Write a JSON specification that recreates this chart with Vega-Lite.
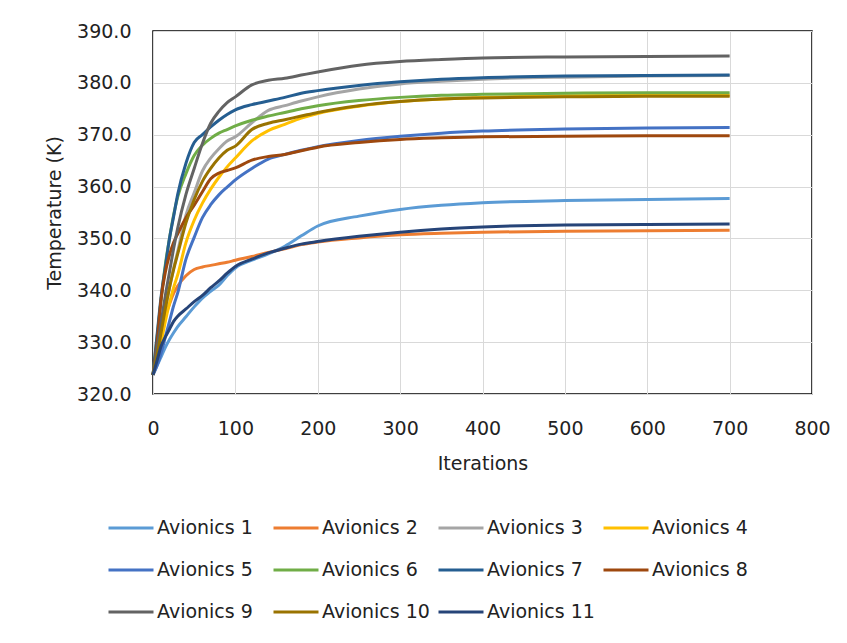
{
  "$schema": "https://vega.github.io/schema/vega-lite/v6.json",
  "width": 659,
  "height": 363,
  "autosize": {"type": "none"},
  "padding": {"left": 153, "top": 31, "right": 35, "bottom": 249},
  "background": "white",
  "config": {
    "font": "DejaVu Sans",
    "view": {"stroke": "#000000", "strokeWidth": 1.5},
    "axis": {
      "labelFont": "DejaVu Sans",
      "titleFont": "DejaVu Sans",
      "labelFontSize": 19,
      "titleFontSize": 19,
      "labelColor": "#222222",
      "titleColor": "#222222",
      "titleFontWeight": "normal",
      "gridColor": "#D9D9D9",
      "gridWidth": 1,
      "domain": false,
      "ticks": false
    },
    "legend": {
      "labelFont": "DejaVu Sans",
      "labelFontSize": 19,
      "labelColor": "#222222"
    }
  },
  "data": {
    "values": [
      {"it": 0, "Avionics 1": 323.7, "Avionics 2": 323.7, "Avionics 3": 323.7, "Avionics 4": 323.7, "Avionics 5": 323.7, "Avionics 6": 323.7, "Avionics 7": 323.7, "Avionics 8": 323.7, "Avionics 9": 323.7, "Avionics 10": 323.7, "Avionics 11": 323.7},
      {"it": 5, "Avionics 1": 325.5, "Avionics 2": 328.0, "Avionics 3": 328.0, "Avionics 4": 326.5, "Avionics 5": 325.5, "Avionics 6": 331.0, "Avionics 7": 331.5, "Avionics 8": 330.0, "Avionics 9": 329.0, "Avionics 10": 327.5, "Avionics 11": 326.5},
      {"it": 10, "Avionics 1": 327.2, "Avionics 2": 332.5, "Avionics 3": 332.5, "Avionics 4": 330.0, "Avionics 5": 328.0, "Avionics 6": 338.5, "Avionics 7": 339.0, "Avionics 8": 338.5, "Avionics 9": 334.0, "Avionics 10": 332.0, "Avionics 11": 329.3},
      {"it": 15, "Avionics 1": 329.0, "Avionics 2": 335.0, "Avionics 3": 336.5, "Avionics 4": 334.0, "Avionics 5": 331.0, "Avionics 6": 345.0, "Avionics 7": 344.5, "Avionics 8": 343.5, "Avionics 9": 339.0, "Avionics 10": 336.5, "Avionics 11": 331.0},
      {"it": 20, "Avionics 1": 330.5, "Avionics 2": 337.3, "Avionics 3": 340.5, "Avionics 4": 337.5, "Avionics 5": 334.0, "Avionics 6": 350.0, "Avionics 7": 350.0, "Avionics 8": 346.8, "Avionics 9": 343.5, "Avionics 10": 340.5, "Avionics 11": 332.5},
      {"it": 25, "Avionics 1": 331.8, "Avionics 2": 339.4, "Avionics 3": 344.2, "Avionics 4": 340.5, "Avionics 5": 337.0, "Avionics 6": 354.5, "Avionics 7": 354.2, "Avionics 8": 349.2, "Avionics 9": 348.0, "Avionics 10": 344.0, "Avionics 11": 334.0},
      {"it": 30, "Avionics 1": 333.0, "Avionics 2": 340.8, "Avionics 3": 347.5, "Avionics 4": 343.0, "Avionics 5": 339.5, "Avionics 6": 358.0, "Avionics 7": 358.5, "Avionics 8": 350.9, "Avionics 9": 352.0, "Avionics 10": 347.0, "Avionics 11": 335.0},
      {"it": 40, "Avionics 1": 334.9, "Avionics 2": 342.8, "Avionics 3": 354.5, "Avionics 4": 349.2, "Avionics 5": 346.0, "Avionics 6": 362.5, "Avionics 7": 364.5, "Avionics 8": 354.0, "Avionics 9": 358.5, "Avionics 10": 353.0, "Avionics 11": 336.4},
      {"it": 50, "Avionics 1": 336.8, "Avionics 2": 344.0, "Avionics 3": 358.8, "Avionics 4": 353.5, "Avionics 5": 350.2, "Avionics 6": 366.0, "Avionics 7": 368.5, "Avionics 8": 356.4, "Avionics 9": 363.5, "Avionics 10": 357.5, "Avionics 11": 337.8},
      {"it": 60, "Avionics 1": 338.5, "Avionics 2": 344.5, "Avionics 3": 363.0, "Avionics 4": 356.8, "Avionics 5": 354.0, "Avionics 6": 368.0, "Avionics 7": 370.0, "Avionics 8": 359.0, "Avionics 9": 368.3, "Avionics 10": 361.0, "Avionics 11": 339.0},
      {"it": 70, "Avionics 1": 339.8, "Avionics 2": 344.8, "Avionics 3": 365.5, "Avionics 4": 359.5, "Avionics 5": 356.5, "Avionics 6": 369.3, "Avionics 7": 371.5, "Avionics 8": 361.5, "Avionics 9": 372.2, "Avionics 10": 363.5, "Avionics 11": 340.5},
      {"it": 80, "Avionics 1": 341.0, "Avionics 2": 345.1, "Avionics 3": 367.3, "Avionics 4": 361.8, "Avionics 5": 358.4, "Avionics 6": 370.3, "Avionics 7": 372.8, "Avionics 8": 362.6, "Avionics 9": 374.5, "Avionics 10": 365.5, "Avionics 11": 341.8},
      {"it": 90, "Avionics 1": 342.8, "Avionics 2": 345.4, "Avionics 3": 368.8, "Avionics 4": 363.8, "Avionics 5": 359.9, "Avionics 6": 371.0, "Avionics 7": 373.9, "Avionics 8": 363.1, "Avionics 9": 376.2, "Avionics 10": 367.0, "Avionics 11": 343.3},
      {"it": 100, "Avionics 1": 344.3, "Avionics 2": 345.8, "Avionics 3": 369.6, "Avionics 4": 365.5, "Avionics 5": 361.3, "Avionics 6": 371.7, "Avionics 7": 374.8, "Avionics 8": 363.6, "Avionics 9": 377.3, "Avionics 10": 367.8, "Avionics 11": 344.6},
      {"it": 120, "Avionics 1": 345.8, "Avionics 2": 346.5, "Avionics 3": 372.3, "Avionics 4": 368.8, "Avionics 5": 363.5, "Avionics 6": 372.8, "Avionics 7": 375.8, "Avionics 8": 365.1, "Avionics 9": 379.6, "Avionics 10": 371.0, "Avionics 11": 346.0},
      {"it": 140, "Avionics 1": 347.0, "Avionics 2": 347.3, "Avionics 3": 374.7, "Avionics 4": 370.8, "Avionics 5": 365.3, "Avionics 6": 373.6, "Avionics 7": 376.5, "Avionics 8": 365.8, "Avionics 9": 380.5, "Avionics 10": 372.2, "Avionics 11": 347.2},
      {"it": 160, "Avionics 1": 348.5, "Avionics 2": 348.0, "Avionics 3": 375.6, "Avionics 4": 372.0, "Avionics 5": 366.2, "Avionics 6": 374.3, "Avionics 7": 377.2, "Avionics 8": 366.2, "Avionics 9": 380.9, "Avionics 10": 372.9, "Avionics 11": 348.1},
      {"it": 180, "Avionics 1": 350.5, "Avionics 2": 348.8, "Avionics 3": 376.5, "Avionics 4": 373.2, "Avionics 5": 367.0, "Avionics 6": 375.0, "Avionics 7": 378.0, "Avionics 8": 366.9, "Avionics 9": 381.5, "Avionics 10": 373.6, "Avionics 11": 348.9},
      {"it": 200, "Avionics 1": 352.4, "Avionics 2": 349.3, "Avionics 3": 377.3, "Avionics 4": 374.1, "Avionics 5": 367.7, "Avionics 6": 375.6, "Avionics 7": 378.5, "Avionics 8": 367.6, "Avionics 9": 382.1, "Avionics 10": 374.3, "Avionics 11": 349.4},
      {"it": 250, "Avionics 1": 354.3, "Avionics 2": 350.1, "Avionics 3": 378.8, "Avionics 4": 375.5, "Avionics 5": 368.9, "Avionics 6": 376.6, "Avionics 7": 379.5, "Avionics 8": 368.5, "Avionics 9": 383.4, "Avionics 10": 375.6, "Avionics 11": 350.4},
      {"it": 300, "Avionics 1": 355.6, "Avionics 2": 350.7, "Avionics 3": 379.8, "Avionics 4": 376.4, "Avionics 5": 369.7, "Avionics 6": 377.2, "Avionics 7": 380.2, "Avionics 8": 369.1, "Avionics 9": 384.1, "Avionics 10": 376.4, "Avionics 11": 351.2},
      {"it": 350, "Avionics 1": 356.4, "Avionics 2": 351.0, "Avionics 3": 380.3, "Avionics 4": 376.9, "Avionics 5": 370.3, "Avionics 6": 377.6, "Avionics 7": 380.7, "Avionics 8": 369.4, "Avionics 9": 384.5, "Avionics 10": 376.9, "Avionics 11": 351.8},
      {"it": 400, "Avionics 1": 356.9, "Avionics 2": 351.2, "Avionics 3": 380.7, "Avionics 4": 377.2, "Avionics 5": 370.7, "Avionics 6": 377.8, "Avionics 7": 381.0, "Avionics 8": 369.6, "Avionics 9": 384.8, "Avionics 10": 377.1, "Avionics 11": 352.2},
      {"it": 500, "Avionics 1": 357.3, "Avionics 2": 351.4, "Avionics 3": 381.1, "Avionics 4": 377.5, "Avionics 5": 371.1, "Avionics 6": 378.0, "Avionics 7": 381.3, "Avionics 8": 369.7, "Avionics 9": 385.0, "Avionics 10": 377.3, "Avionics 11": 352.6},
      {"it": 600, "Avionics 1": 357.5, "Avionics 2": 351.5, "Avionics 3": 381.3, "Avionics 4": 377.6, "Avionics 5": 371.3, "Avionics 6": 378.1, "Avionics 7": 381.4, "Avionics 8": 369.8, "Avionics 9": 385.1, "Avionics 10": 377.4, "Avionics 11": 352.7},
      {"it": 700, "Avionics 1": 357.7, "Avionics 2": 351.6, "Avionics 3": 381.4, "Avionics 4": 377.6, "Avionics 5": 371.4, "Avionics 6": 378.1, "Avionics 7": 381.5, "Avionics 8": 369.8, "Avionics 9": 385.2, "Avionics 10": 377.4, "Avionics 11": 352.8}
    ]
  },
  "transform": [
    {"fold": ["Avionics 1", "Avionics 2", "Avionics 3", "Avionics 4", "Avionics 5", "Avionics 6", "Avionics 7", "Avionics 8", "Avionics 9", "Avionics 10", "Avionics 11"], "as": ["series", "T"]}
  ],
  "mark": {"type": "line", "strokeWidth": 3, "interpolate": "monotone"},
  "encoding": {
    "x": {
      "field": "it",
      "type": "quantitative",
      "title": "Iterations",
      "scale": {"domain": [0, 800], "nice": false},
      "axis": {"values": [0, 100, 200, 300, 400, 500, 600, 700, 800], "labelPadding": 25, "titlePadding": 16, "labelFlush": false}
    },
    "y": {
      "field": "T",
      "type": "quantitative",
      "title": "Temperature (K)",
      "scale": {"domain": [320, 390], "nice": false, "zero": false},
      "axis": {"values": [320, 330, 340, 350, 360, 370, 380, 390], "format": ".1f", "labelPadding": 22, "titlePadding": 12}
    },
    "color": {
      "field": "series",
      "type": "nominal",
      "scale": {
        "domain": ["Avionics 1", "Avionics 2", "Avionics 3", "Avionics 4", "Avionics 5", "Avionics 6", "Avionics 7", "Avionics 8", "Avionics 9", "Avionics 10", "Avionics 11"],
        "range": ["#5B9BD5", "#ED7D31", "#A5A5A5", "#FFC000", "#4472C4", "#70AD47", "#255E91", "#9E480E", "#636363", "#997300", "#264478"]
      },
      "legend": {
        "title": null,
        "orient": "none",
        "legendX": -46,
        "legendY": 473,
        "direction": "horizontal",
        "columns": 4,
        "gridAlign": "all",
        "columnPadding": 2,
        "rowPadding": 8,
        "symbolType": "stroke",
        "symbolSize": 2025,
        "symbolStrokeWidth": 3,
        "labelOffset": 2,
        "padding": 0,
        "labelLimit": 300
      }
    }
  }
}
